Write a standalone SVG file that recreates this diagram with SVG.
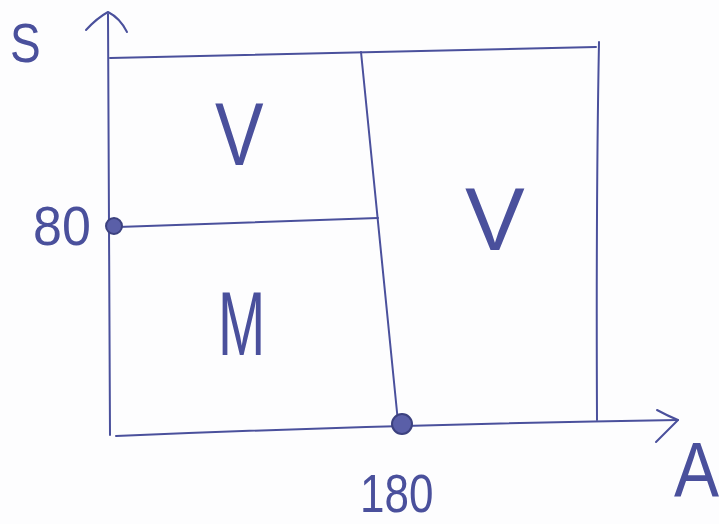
<svg xmlns="http://www.w3.org/2000/svg" width="719" height="524" viewBox="0 0 719 524">
<style>
.ink{fill:none;stroke:#4a509c;stroke-width:2;stroke-linecap:round;stroke-linejoin:round}
.lbl{font-family:"Liberation Sans",Arial,sans-serif;fill:#4a509c;font-weight:normal}
.dot{fill:#5a5fa8;stroke:#3c417f;stroke-width:2}
</style>
<rect width="719" height="524" fill="#fdfdfe"/>
<g id="axes">
<path class="ink" d="M108,14 L110,435"/>
<path class="ink" d="M86,30 Q97,18 108,12 Q120,18 127,32"/>
<path class="ink" d="M116,436 Q400,424 678,420"/>
<path class="ink" d="M657,410 Q668,416 678,420 L656,442"/>
</g>
<g id="grid">
<path class="ink" d="M110,58 Q350,52 596,47"/>
<path class="ink" d="M599,42 Q596,200 597,420"/>
<path class="ink" d="M361,52 Q380,240 398,422"/>
<path class="ink" d="M118,227 Q250,222 378,218"/>
</g>
<g id="points">
<circle class="dot" cx="114" cy="226" r="8"/>
<circle class="dot" cx="402" cy="424" r="10"/>
</g>
<g id="labels">
<text class="lbl" font-size="46" transform="translate(10,62) scale(1,1.2)">S</text>
<text class="lbl" font-size="56" transform="translate(215,165) scale(1.3,1.6)">V</text>
<text class="lbl" font-size="56" transform="translate(465,250) scale(1.6,1.6)">V</text>
<text class="lbl" font-size="54" transform="translate(218,355) scale(1.05,1.68)">M</text>
<text class="lbl" font-size="40" transform="translate(33,245) scale(1.3,1.4)">80</text>
<text class="lbl" font-size="40" transform="translate(360,512) scale(1.1,1.35)">180</text>
<text class="lbl" font-size="52" transform="translate(674,497) scale(1.3,1.5)">A</text>
</g>
</svg>
